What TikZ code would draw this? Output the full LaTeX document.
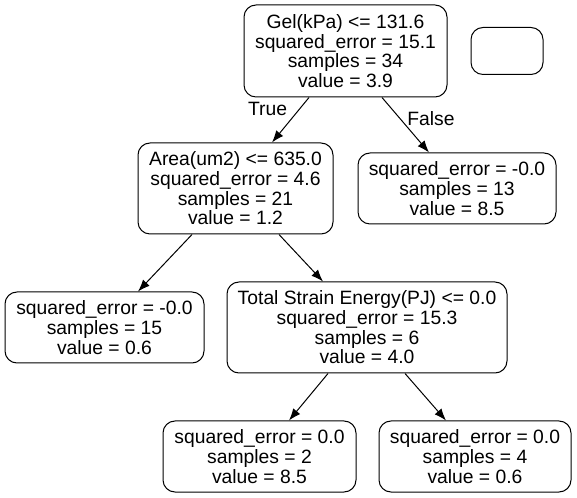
\documentclass[tikz,border=0pt]{standalone}
\usepackage{fontspec}
\setmainfont{Liberation Sans}
\usetikzlibrary{positioning,arrows.meta}
\tikzstyle{split} = [rectangle, draw, line width=1pt, rounded corners=12pt,
    align=center, inner sep=0pt, font=\fontsize{19.3}{19.7}\selectfont]
\tikzstyle{leaf} = [split]
\tikzstyle{edgelabel} = [inner sep=0pt, font=\fontsize{19.3}{19.7}\selectfont]

\begin{document}
\begin{tikzpicture}[auto, >={Latex[length=12pt,width=9pt]}, line width=1pt]
                \useasboundingbox (0,0) rectangle (577pt,497pt);
                % Nodes
                \node [split, minimum width=203pt, minimum height=92pt] (root) at (345.5pt,446pt)
                    {Gel(kPa) <= 131.6\\squared\_error = 15.1\\samples = 34\\value = 3.9};
                \node [split, right of=root, node distance=161.5pt, minimum width=72pt, minimum height=47pt] (blank) {};

                \node [split, below of=root, node distance=137.5pt, xshift=-110pt, minimum width=195pt, minimum height=91pt] (area)
                    {Area(um2) <= 635.0\\squared\_error = 4.6\\samples = 21\\value = 1.2};
                \node [leaf, below of=root, node distance=137.5pt, xshift=111.5pt, minimum width=198pt, minimum height=71pt] (leafA)
                    {squared\_error = -0.0\\samples = 13\\value = 8.5};

                \node [leaf, below of=area, node distance=139pt, xshift=-131pt, minimum width=199pt, minimum height=71pt] (leafB)
                    {squared\_error = -0.0\\samples = 15\\value = 0.6};
                \node [split, below of=area, node distance=139pt, xshift=131.5pt, minimum width=280pt, minimum height=91pt] (strain)
                    {Total Strain Energy(PJ) <= 0.0\\squared\_error = 15.3\\samples = 6\\value = 4.0};

                \node [leaf, below of=strain, node distance=129pt, xshift=-107.5pt, minimum width=193pt, minimum height=71pt] (leafC)
                    {squared\_error = 0.0\\samples = 2\\value = 8.5};
                \node [leaf, below of=strain, node distance=129pt, xshift=108pt, minimum width=192pt, minimum height=71pt] (leafD)
                    {squared\_error = 0.0\\samples = 4\\value = 0.6};

                % Edge labels
                \node [edgelabel] at ([xshift=-78pt,yshift=-58pt]root.center) {True};
                \node [edgelabel] at ([xshift=85.5pt,yshift=-68pt]root.center) {False};

                % Connections
                \draw [->] ([xshift=-36.5pt]root.south) -- ([xshift=36.5pt]area.north);
                \draw [->] ([xshift=36.5pt]root.south) -- ([xshift=-28pt]leafA.north);
                \draw [->] ([xshift=-43.5pt]area.south) -- ([xshift=33.5pt]leafB.north);
                \draw [->] ([xshift=43.5pt]area.south) -- ([xshift=-44pt]strain.north);
                \draw [->] ([xshift=-39pt]strain.south) -- ([xshift=29.5pt]leafC.north);
                \draw [->] ([xshift=38pt]strain.south) -- ([xshift=-29pt]leafD.north);

            \end{tikzpicture}
\end{document}
